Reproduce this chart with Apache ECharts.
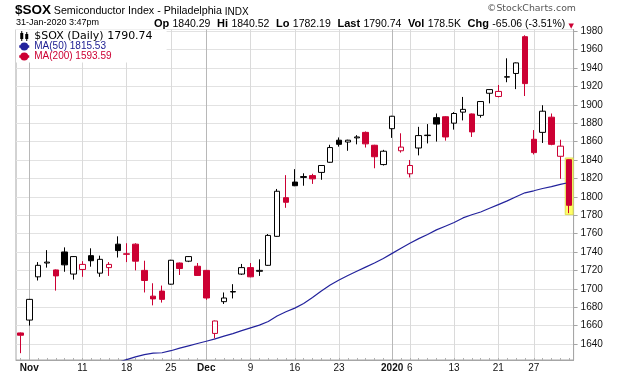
<!DOCTYPE html>
<html>
<head>
<meta charset="utf-8">
<title>$SOX daily</title>
<script src="https://cdn.jsdelivr.net/npm/echarts@6/dist/echarts.min.js"></script>
<style>
  html, body { margin: 0; padding: 0; background: #fff; }
  #chart { width: 620px; height: 376px; }
</style>
</head>
<body>
<div id="chart"></div>
<script>
// trading days, 31 Oct 2019 - 31 Jan 2020
const dates = [
  '2019-10-31', '2019-11-01', '2019-11-04', '2019-11-05', '2019-11-06', '2019-11-07', '2019-11-08',
  '2019-11-11', '2019-11-12', '2019-11-13', '2019-11-14', '2019-11-15', '2019-11-18', '2019-11-19',
  '2019-11-20', '2019-11-21', '2019-11-22', '2019-11-25', '2019-11-26', '2019-11-27', '2019-11-29',
  '2019-12-02', '2019-12-03', '2019-12-04', '2019-12-05', '2019-12-06', '2019-12-09', '2019-12-10',
  '2019-12-11', '2019-12-12', '2019-12-13', '2019-12-16', '2019-12-17', '2019-12-18', '2019-12-19',
  '2019-12-20', '2019-12-23', '2019-12-24', '2019-12-26', '2019-12-27', '2019-12-30', '2019-12-31',
  '2020-01-02', '2020-01-03', '2020-01-06', '2020-01-07', '2020-01-08', '2020-01-09', '2020-01-10',
  '2020-01-13', '2020-01-14', '2020-01-15', '2020-01-16', '2020-01-17', '2020-01-21', '2020-01-22',
  '2020-01-23', '2020-01-24', '2020-01-27', '2020-01-28', '2020-01-29', '2020-01-30', '2020-01-31'
];

const opens = [
  1652, 1666, 1713, 1728, 1720.5, 1740, 1716, 1721, 1736, 1717,
  1723, 1748.5, 1738, 1748.5, 1720, 1692, 1697.5, 1705, 1728, 1730,
  1724.5, 1720, 1651.5, 1686, 1696.5, 1716, 1723, 1719, 1725.5, 1757,
  1799, 1816, 1821, 1823, 1826.5, 1837.5, 1861.5, 1859.5, 1864, 1870,
  1856, 1835, 1874, 1850, 1825, 1853, 1866.5, 1886, 1887, 1880,
  1892, 1890, 1888.5, 1912.5, 1909, 1930, 1934, 1974, 1862.5, 1870,
  1886.5, 1844, 1840.29
];
const highs = [
  1652.5, 1689, 1729, 1742, 1721, 1745, 1735.5, 1730, 1744, 1736,
  1729, 1757, 1749.5, 1749.5, 1730.5, 1706, 1703.5, 1731.5, 1728.5, 1735.5,
  1728, 1720.5, 1665.5, 1696, 1705, 1727, 1728, 1732, 1759.5, 1808.5,
  1823.5, 1830, 1825.5, 1825, 1834.5, 1856.5, 1864.5, 1862, 1867, 1871,
  1856.5, 1851, 1888, 1869, 1840, 1876, 1879, 1890.5, 1887.5, 1892,
  1908.5, 1890.5, 1904, 1917, 1921.5, 1950.5, 1946, 1975.5, 1872.5, 1899.5,
  1890.5, 1862, 1840.52
];
const lows = [
  1630, 1660, 1709, 1723, 1698, 1718.5, 1710, 1713, 1724, 1713,
  1714, 1734, 1729, 1720, 1696, 1682, 1685, 1704.5, 1715, 1729,
  1714, 1688, 1646, 1683.5, 1689.5, 1715, 1712.5, 1714, 1725, 1756.5,
  1788, 1811.5, 1812, 1814, 1818.5, 1837, 1854.5, 1850, 1857, 1853.5,
  1831, 1834, 1864, 1848, 1821, 1845, 1858, 1860, 1861, 1873,
  1883, 1865, 1886, 1901.5, 1908, 1924.5, 1917, 1909.5, 1846, 1858.5,
  1856, 1819.5, 1782.19
];
const closes = [
  1649.5, 1688.5, 1725.5, 1729, 1714, 1726, 1735, 1726.5, 1730.5, 1732,
  1726.5, 1741.5, 1737.5, 1730, 1709, 1689, 1688.5, 1731, 1722, 1735,
  1714.5, 1690, 1665, 1690, 1697, 1723, 1713, 1720, 1758, 1806,
  1794, 1812, 1822, 1819.5, 1834, 1853.5, 1857, 1861.5, 1865, 1857.5,
  1843.5, 1849.5, 1887.5, 1854, 1834, 1866.5, 1867, 1879, 1865, 1890.5,
  1895, 1870.5, 1903.5, 1916.5, 1914.5, 1930.5, 1945.5, 1923, 1848, 1893,
  1857, 1855, 1790.74
];
// close of the session before the first candle
const priorClose = 1660;

const ma50 = [
  null, null, null, null, null, null, null, null, null, null, null,
  1620, 1623, 1626, 1628.5, 1630, 1630.5, 1632.7, 1635.5, 1638, 1640.5,
  1643, 1645.5, 1648.5, 1651.3, 1654.5, 1657.5, 1660.5, 1664.5, 1670.5, 1675,
  1679, 1684, 1690.5, 1697.5, 1704, 1709.5, 1714.5, 1719, 1723.5, 1728,
  1733, 1738.5, 1744, 1749.5, 1754.5, 1759, 1764, 1768, 1772, 1777,
  1780.5, 1783.5, 1787.5, 1791.5, 1795.5, 1800, 1804.3, 1806.5, 1809, 1811,
  1813.5, 1815.53
];

const tickDates = ['2019-11-01', '2019-11-11', '2019-11-18', '2019-11-25', '2019-12-02', '2019-12-09',
  '2019-12-16', '2019-12-23', '2020-01-02', '2020-01-06', '2020-01-13', '2020-01-21', '2020-01-27'];
const tickText = ['Nov', '11', '18', '25', 'Dec', '9', '16', '23', '2020', '6', '13', '21', '27'];
const monthTicks = ['Nov', 'Dec', '2020'];

const RED = '#cc0033';
const BLUE = '#23239c';
const GRID = '#e2e2e2';
const SANS = 'Liberation Sans';

const soxName = '$SOX (Daily) 1790.74';
const ma50Name = 'MA(50) 1815.53';
const ma200Name = 'MA(200) 1593.59';

// hollow when the close is above the open, red when below the prior close
const candles = dates.map((d, i) => {
  const prev = i === 0 ? priorClose : closes[i - 1];
  const c = closes[i] < prev ? RED : '#000';
  const fill = closes[i] < opens[i] ? c : '#fff';
  return {
    value: [opens[i], closes[i], lows[i], highs[i]],
    itemStyle: { color: fill, color0: fill, borderColor: c, borderColor0: c }
  };
});
const last = dates.length - 1;

const tickIdx = tickDates.map(d => dates.indexOf(d));
const monthIdx = tickIdx.filter((ix, k) => monthTicks.includes(tickText[k]));

const chart = echarts.init(document.getElementById('chart'));
chart.setOption({
  animation: false,
  backgroundColor: '#fff',
  textStyle: { fontFamily: SANS },
  title: [
    {
      left: 15, top: 3, padding: 0,
      text: '{t|$SOX} {n|Semiconductor Index - Philadelphia} {x|INDX}',
      textStyle: {
        fontFamily: SANS, fontSize: 10, fontWeight: 'normal',
        rich: {
          t: { fontFamily: SANS, fontWeight: 'bold', fontSize: 13.5, color: '#000', verticalAlign: 'bottom' },
          n: { fontFamily: SANS, fontSize: 10.7, color: '#000', verticalAlign: 'bottom' },
          x: { fontFamily: SANS, fontSize: 10, color: '#000', verticalAlign: 'bottom' }
        }
      }
    },
    {
      left: 16, top: 18.5, padding: 0,
      text: '31-Jan-2020 3:47pm',
      textStyle: { fontFamily: SANS, fontSize: 9, fontWeight: 'normal', color: '#000' }
    },
    {
      right: 46, top: 17.5, padding: 0,
      text: '{l|Op} {v|1840.29}  {l|Hi} {v|1840.52}  {l|Lo} {v|1782.19}  {l|Last} {v|1790.74}  ' +
            '{l|Vol} {v|178.5K}  {l|Chg} {v|-65.06 (-3.51%)} {r|▼}',
      textStyle: {
        fontFamily: SANS, fontSize: 12, fontWeight: 'normal',
        rich: {
          l: { fontFamily: SANS, fontWeight: 'bold', fontSize: 11, color: '#000', verticalAlign: 'bottom' },
          v: { fontFamily: SANS, fontSize: 10.5, color: '#000', verticalAlign: 'bottom' },
          r: { fontFamily: 'DejaVu Sans', fontSize: 7, color: RED, verticalAlign: 'bottom' }
        }
      }
    },
    {
      right: 44, top: 4.5, padding: 0,
      text: '©StockCharts.com',
      textStyle: { fontFamily: 'DejaVu Sans', fontSize: 9.4, fontWeight: 'normal', color: '#555' }
    }
  ],
  legend: {
    orient: 'vertical', left: 16, top: 29.5,
    padding: [1, 14, 1, 2], itemGap: 0, itemWidth: 10, itemHeight: 10,
    backgroundColor: '#fff', selectedMode: false,
    data: [
      {
        name: soxName,
        icon: 'path://M2 0h1v2h1v6h-1v2h-1v-2h-1v-6h1z M7 1h1v2h1v5h-1v2h-1v-2h-1v-5h1z',
        itemStyle: { color: '#000', borderWidth: 0 },
        textStyle: { fontFamily: 'DejaVu Sans', fontSize: 11, color: '#000', lineHeight: 10 }
      },
      {
        name: ma50Name, lineStyle: { width: 2.5 },
        textStyle: { fontFamily: SANS, fontSize: 10, color: '#1a1a90', lineHeight: 10 }
      },
      {
        name: ma200Name, lineStyle: { width: 2.5 },
        textStyle: { fontFamily: SANS, fontSize: 10, color: RED, lineHeight: 10 }
      }
    ]
  },
  grid: {
    left: 16, right: 46.4, top: 29.5, bottom: 16,
    show: true, borderColor: '#a6a6a6', borderWidth: 1, backgroundColor: '#fff'
  },
  xAxis: [
    {
      type: 'category',
      data: dates,
      boundaryGap: true,
      axisLine: { show: true, lineStyle: { color: '#a6a6a6' } },
      axisTick: { show: true, interval: 0, inside: true, length: 2, alignWithLabel: true, lineStyle: { color: '#b0b0b0' } },
      axisLabel: {
        interval: (i) => tickIdx.includes(i),
        margin: 3,
        fontSize: 10,
        color: '#111',
        formatter: (v) => {
          const t = tickText[tickDates.indexOf(v)];
          return monthTicks.includes(t) ? '{b|' + t + '}' : t;
        },
        rich: { b: { fontWeight: 'bold', fontSize: 10, color: '#111' } }
      },
      splitLine: {
        show: true, alignWithLabel: true,
        interval: (i) => tickIdx.includes(i),
        lineStyle: { color: '#dadada' }
      }
    },
    {
      type: 'category',
      data: dates,
      boundaryGap: true,
      axisLine: { show: false },
      axisTick: { show: false },
      axisLabel: { show: false },
      splitLine: {
        show: true, alignWithLabel: true,
        interval: (i) => monthIdx.includes(i),
        lineStyle: { color: '#b8b8b8' }
      }
    }
  ],
  yAxis: {
    type: 'value',
    position: 'right',
    min: 1622.6,
    max: 1981.8,
    splitNumber: 18,
    axisLine: { show: true, lineStyle: { color: '#a6a6a6' } },
    axisTick: { show: true, length: 4, lineStyle: { color: '#a6a6a6' } },
    axisLabel: {
      margin: 7, fontSize: 10, color: '#111',
      showMinLabel: false, showMaxLabel: false,
      formatter: (v) => String(v)
    },
    splitLine: { show: true, lineStyle: { color: GRID } }
  },
  series: [
    {
      // yellow box behind the latest bar
      type: 'custom',
      z: 1,
      silent: true,
      data: [[last, lows[last], highs[last]]],
      renderItem: (params, api) => {
        const top = api.coord([api.value(0), api.value(2)]);
        const bot = api.coord([api.value(0), api.value(1)]);
        const w = api.size([1, 0])[0];
        return {
          type: 'rect',
          shape: { x: top[0] - w / 2 + 0.5, y: top[1] - 1.5, width: w - 1, height: bot[1] - top[1] + 3 },
          style: { fill: '#ffff66', stroke: '#dede55', lineWidth: 1 }
        };
      }
    },
    {
      name: soxName,
      type: 'candlestick',
      z: 3,
      barWidth: 6,
      itemStyle: { borderWidth: 1 },
      data: candles
    },
    {
      name: ma50Name,
      type: 'line',
      z: 2,
      symbol: 'none',
      data: ma50,
      lineStyle: { color: BLUE, width: 1.2 },
      itemStyle: { color: BLUE }
    },
    {
      name: ma200Name,
      type: 'line',
      symbol: 'none',
      data: [],
      lineStyle: { color: RED, width: 1.2 },
      itemStyle: { color: RED }
    }
  ]
});
</script>
</body>
</html>
